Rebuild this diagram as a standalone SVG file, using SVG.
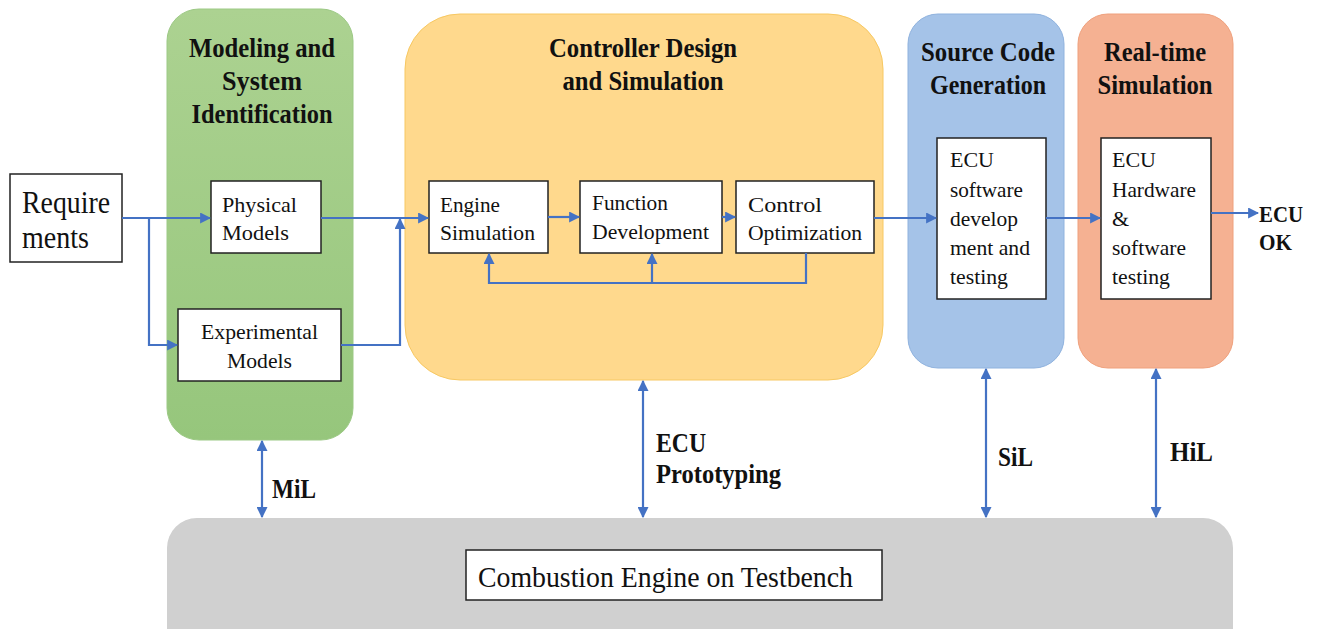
<svg xmlns="http://www.w3.org/2000/svg" width="1317" height="629" viewBox="0 0 1317 629">
<style>
text{font-family:'Liberation Serif',serif;fill:#111}
.title{font-weight:bold;font-size:28px;text-anchor:middle}
.box{fill:#fff;stroke:#222;stroke-width:1.5}
.lbl{font-size:22px}
.bl{font-weight:bold;font-size:27px}
.c{fill:none;stroke:#4472c4;stroke-width:2.2}
</style>
<defs>
<marker id="a" viewBox="0 0 10 10" refX="9" refY="5" markerWidth="5" markerHeight="5" orient="auto-start-reverse"><path d="M0,0L10,5L0,10z" fill="#4472c4"/></marker>
<linearGradient id="g" x1="0" y1="0" x2="0" y2="1"><stop offset="0" stop-color="#acd291"/><stop offset="1" stop-color="#96c67c"/></linearGradient>
</defs>
<rect width="1317" height="629" fill="#fff"/>
<g id="bench"><rect x="167" y="518" width="1066" height="140" rx="30" fill="#d0d0d0"/>
<rect x="466" y="550" width="416" height="50" class="box"/>
<text x="478" y="587" font-size="30" textLength="375" lengthAdjust="spacingAndGlyphs">Combustion Engine on Testbench</text></g>
<g id="modeling"><rect x="167" y="9" width="186" height="431" rx="32" fill="url(#g)" stroke="#9cc985"/>
<text class="title" x="262" y="57" textLength="146" lengthAdjust="spacingAndGlyphs">Modeling and</text>
<text class="title" x="262" y="90" textLength="80" lengthAdjust="spacingAndGlyphs">System</text>
<text class="title" x="262" y="123" textLength="141" lengthAdjust="spacingAndGlyphs">Identification</text></g>
<g id="controller"><rect x="405" y="14" width="478" height="366" rx="55" fill="#ffd98d" stroke="#f7c862"/>
<text class="title" x="643" y="57" textLength="188" lengthAdjust="spacingAndGlyphs">Controller Design</text>
<text class="title" x="643" y="90" textLength="161" lengthAdjust="spacingAndGlyphs">and Simulation</text></g>
<g id="source"><rect x="908" y="14" width="156" height="354" rx="30" fill="#a5c3e8" stroke="#8fb2de"/>
<text class="title" x="988" y="61" textLength="134" lengthAdjust="spacingAndGlyphs">Source Code</text>
<text class="title" x="988" y="94" textLength="116" lengthAdjust="spacingAndGlyphs">Generation</text></g>
<g id="realtime"><rect x="1078" y="14" width="155" height="354" rx="30" fill="#f5b192" stroke="#efa07c"/>
<text class="title" x="1155" y="61" textLength="102" lengthAdjust="spacingAndGlyphs">Real-time</text>
<text class="title" x="1155" y="94" textLength="115" lengthAdjust="spacingAndGlyphs">Simulation</text></g>
<g id="requirements"><rect x="10" y="174" width="112" height="88" class="box"/>
<text x="22" y="213" font-size="31" textLength="88" lengthAdjust="spacingAndGlyphs">Require</text>
<text x="22" y="248" font-size="31" textLength="67" lengthAdjust="spacingAndGlyphs">ments</text></g>
<g id="physical"><rect x="211" y="181" width="110" height="72" class="box"/>
<text class="lbl" x="222" y="212" textLength="75" lengthAdjust="spacingAndGlyphs">Physical</text>
<text class="lbl" x="222" y="240" textLength="67" lengthAdjust="spacingAndGlyphs">Models</text></g>
<g id="experimental"><rect x="178" y="309" width="163" height="72" class="box"/>
<text class="lbl" x="201" y="339" textLength="117" lengthAdjust="spacingAndGlyphs">Experimental</text>
<text class="lbl" x="227" y="368" textLength="65" lengthAdjust="spacingAndGlyphs">Models</text></g>
<g id="engine"><rect x="429" y="181" width="119" height="72" class="box"/>
<text class="lbl" x="440" y="212" textLength="60" lengthAdjust="spacingAndGlyphs">Engine</text>
<text class="lbl" x="440" y="240" textLength="95" lengthAdjust="spacingAndGlyphs">Simulation</text></g>
<g id="function"><rect x="580" y="181" width="142" height="72" class="box"/>
<text class="lbl" x="592" y="210" textLength="76" lengthAdjust="spacingAndGlyphs">Function</text>
<text class="lbl" x="592" y="239" textLength="117" lengthAdjust="spacingAndGlyphs">Development</text></g>
<g id="control"><rect x="736" y="181" width="138" height="72" class="box"/>
<text class="lbl" x="748" y="212" textLength="74" lengthAdjust="spacingAndGlyphs">Control</text>
<text class="lbl" x="748" y="240" textLength="114" lengthAdjust="spacingAndGlyphs">Optimization</text></g>
<g id="ecusw"><rect x="937" y="138" width="109" height="161" class="box"/>
<text class="lbl" x="950" y="167">ECU</text>
<text class="lbl" x="950" y="197" textLength="73" lengthAdjust="spacingAndGlyphs">software</text>
<text class="lbl" x="950" y="226" textLength="68" lengthAdjust="spacingAndGlyphs">develop</text>
<text class="lbl" x="950" y="255" textLength="80" lengthAdjust="spacingAndGlyphs">ment and</text>
<text class="lbl" x="950" y="284" textLength="58" lengthAdjust="spacingAndGlyphs">testing</text></g>
<g id="ecuhw"><rect x="1101" y="138" width="110" height="161" class="box"/>
<text class="lbl" x="1112" y="167">ECU</text>
<text class="lbl" x="1112" y="197" textLength="84" lengthAdjust="spacingAndGlyphs">Hardware</text>
<text class="lbl" x="1112" y="226">&amp;</text>
<text class="lbl" x="1112" y="255" textLength="74" lengthAdjust="spacingAndGlyphs">software</text>
<text class="lbl" x="1112" y="284" textLength="58" lengthAdjust="spacingAndGlyphs">testing</text></g>
<g id="ecuok"><text x="1259" y="222" font-size="23" font-weight="bold" textLength="44" lengthAdjust="spacingAndGlyphs">ECU</text>
<text x="1259" y="250" font-size="23" font-weight="bold" textLength="33" lengthAdjust="spacingAndGlyphs">OK</text></g>
<g id="connectors">
<path class="c" d="M122,218H210" marker-end="url(#a)"/>
<path class="c" d="M149,218V345H177" marker-end="url(#a)"/>
<path class="c" d="M321,218H428" marker-end="url(#a)"/>
<path class="c" d="M341,345H400V219" marker-end="url(#a)"/>
<path class="c" d="M548,217H579" marker-end="url(#a)"/>
<path class="c" d="M722,217H735" marker-end="url(#a)"/>
<path class="c" d="M806,253V283H489V254" marker-end="url(#a)"/>
<path class="c" d="M652,283V254" marker-end="url(#a)"/>
<path class="c" d="M874,218H936" marker-end="url(#a)"/>
<path class="c" d="M1046,218H1100" marker-end="url(#a)"/>
<path class="c" d="M1211,213H1258" marker-end="url(#a)"/>
<path class="c" d="M262,441V517" marker-start="url(#a)" marker-end="url(#a)"/>
<path class="c" d="M643,381V517" marker-start="url(#a)" marker-end="url(#a)"/>
<path class="c" d="M986,369V517" marker-start="url(#a)" marker-end="url(#a)"/>
<path class="c" d="M1156,369V517" marker-start="url(#a)" marker-end="url(#a)"/>
</g>
<g id="labels">
<text class="bl" x="272" y="498" textLength="44" lengthAdjust="spacingAndGlyphs">MiL</text>
<text class="bl" x="656" y="452" textLength="50" lengthAdjust="spacingAndGlyphs">ECU</text>
<text class="bl" x="656" y="483" textLength="125" lengthAdjust="spacingAndGlyphs">Prototyping</text>
<text class="bl" x="998" y="466" textLength="35" lengthAdjust="spacingAndGlyphs">SiL</text>
<text class="bl" x="1170" y="461" textLength="43" lengthAdjust="spacingAndGlyphs">HiL</text>
</g>
</svg>
